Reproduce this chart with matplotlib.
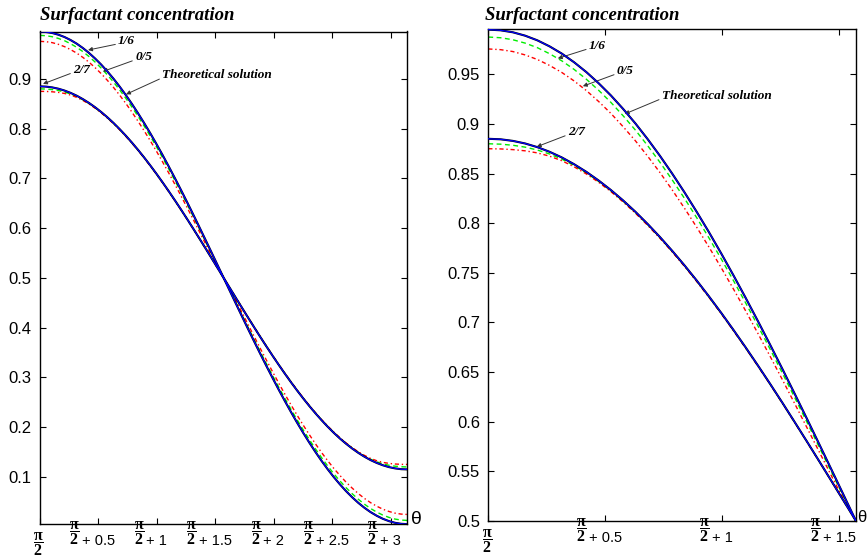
import matplotlib
matplotlib.use("Agg")
import matplotlib.pyplot as plt
import numpy as np
from matplotlib.ticker import FormatStrFormatter

plt.rcParams['mathtext.fontset'] = 'custom'
plt.rcParams['mathtext.rm'] = 'Liberation Serif'
plt.rcParams['mathtext.bf'] = 'Liberation Serif:bold'
plt.rcParams['font.family'] = ['Liberation Sans', 'DejaVu Sans']

# theta offset from pi/2, in degrees, every 3 degrees over [0, 180]
theta_offset_deg = list(range(0, 181, 3))

# upper family (steeper profile)
theory_upper = [
    0.9950, 0.9943, 0.9923, 0.9889, 0.9842, 0.9781, 0.9708, 0.9621, 0.9522, 0.9410,
    0.9287, 0.9151, 0.9005, 0.8847, 0.8679, 0.8500, 0.8312, 0.8115, 0.7910, 0.7696,
    0.7475, 0.7247, 0.7013, 0.6774, 0.6530, 0.6281, 0.6029, 0.5774, 0.5517, 0.5259,
    0.5000,
    0.4741, 0.4483, 0.4226, 0.3971, 0.3719, 0.3470, 0.3226, 0.2987, 0.2753, 0.2525,
    0.2304, 0.2090, 0.1885, 0.1688, 0.1500, 0.1321, 0.1153, 0.0995, 0.0849, 0.0713,
    0.0590, 0.0478, 0.0379, 0.0292, 0.0219, 0.0158, 0.0111, 0.0077, 0.0057, 0.0050]
green_upper = [
    0.9875, 0.9868, 0.9848, 0.9814, 0.9768, 0.9707, 0.9635, 0.9549, 0.9450, 0.9339,
    0.9217, 0.9082, 0.8938, 0.8781, 0.8614, 0.8437, 0.8251, 0.8056, 0.7852, 0.7641,
    0.7422, 0.7196, 0.6965, 0.6729, 0.6488, 0.6243, 0.5995, 0.5744, 0.5493, 0.5242,
    0.5000,
    0.4758, 0.4507, 0.4256, 0.4005, 0.3757, 0.3512, 0.3271, 0.3035, 0.2804, 0.2578,
    0.2359, 0.2148, 0.1944, 0.1749, 0.1563, 0.1386, 0.1219, 0.1062, 0.0918, 0.0783,
    0.0661, 0.0550, 0.0451, 0.0365, 0.0293, 0.0232, 0.0186, 0.0152, 0.0132, 0.0125]
red_upper = [
    0.9755, 0.9748, 0.9729, 0.9695, 0.9649, 0.9589, 0.9518, 0.9433, 0.9336, 0.9226,
    0.9106, 0.8972, 0.8830, 0.8675, 0.8511, 0.8336, 0.8152, 0.7960, 0.7760, 0.7552,
    0.7337, 0.7116, 0.6889, 0.6657, 0.6422, 0.6182, 0.5940, 0.5697, 0.5454, 0.5214,
    0.5000,
    0.4786, 0.4546, 0.4303, 0.4060, 0.3818, 0.3578, 0.3343, 0.3111, 0.2884, 0.2663,
    0.2448, 0.2240, 0.2040, 0.1848, 0.1664, 0.1489, 0.1325, 0.1170, 0.1028, 0.0894,
    0.0774, 0.0664, 0.0567, 0.0482, 0.0411, 0.0351, 0.0305, 0.0271, 0.0252, 0.0245]

# lower family (flatter profile)
theory_lower = [
    0.8850, 0.8845, 0.8829, 0.8803, 0.8766, 0.8719, 0.8662, 0.8594, 0.8517, 0.8430,
    0.8334, 0.8229, 0.8115, 0.7992, 0.7861, 0.7722, 0.7576, 0.7423, 0.7263, 0.7097,
    0.6925, 0.6748, 0.6566, 0.6380, 0.6190, 0.5996, 0.5800, 0.5602, 0.5402, 0.5201,
    0.5000,
    0.4799, 0.4598, 0.4398, 0.4200, 0.4004, 0.3810, 0.3620, 0.3434, 0.3252, 0.3075,
    0.2903, 0.2737, 0.2577, 0.2424, 0.2278, 0.2139, 0.2008, 0.1885, 0.1771, 0.1666,
    0.1570, 0.1483, 0.1406, 0.1338, 0.1281, 0.1234, 0.1197, 0.1171, 0.1155, 0.1150]
green_lower = [
    0.8800, 0.8796, 0.8785, 0.8766, 0.8737, 0.8697, 0.8645, 0.8581, 0.8506, 0.8421,
    0.8326, 0.8222, 0.8108, 0.7986, 0.7855, 0.7717, 0.7571, 0.7418, 0.7259, 0.7093,
    0.6921, 0.6745, 0.6563, 0.6377, 0.6188, 0.5994, 0.5799, 0.5601, 0.5401, 0.5201,
    0.5000,
    0.4799, 0.4599, 0.4399, 0.4201, 0.4006, 0.3812, 0.3623, 0.3437, 0.3255, 0.3079,
    0.2907, 0.2741, 0.2582, 0.2429, 0.2283, 0.2145, 0.2014, 0.1892, 0.1778, 0.1674,
    0.1579, 0.1494, 0.1419, 0.1355, 0.1303, 0.1263, 0.1234, 0.1215, 0.1204, 0.1200]
red_lower = [
    0.8750, 0.8748, 0.8741, 0.8729, 0.8708, 0.8675, 0.8629, 0.8568, 0.8496, 0.8412,
    0.8318, 0.8214, 0.8101, 0.7979, 0.7849, 0.7711, 0.7566, 0.7413, 0.7254, 0.7089,
    0.6917, 0.6741, 0.6560, 0.6375, 0.6186, 0.5992, 0.5797, 0.5600, 0.5401, 0.5200,
    0.5000,
    0.4800, 0.4599, 0.4400, 0.4203, 0.4008, 0.3814, 0.3625, 0.3440, 0.3259, 0.3083,
    0.2911, 0.2746, 0.2587, 0.2434, 0.2289, 0.2151, 0.2021, 0.1899, 0.1786, 0.1682,
    0.1588, 0.1504, 0.1432, 0.1371, 0.1325, 0.1292, 0.1271, 0.1259, 0.1252, 0.1250]

left_xticks = [0, 0.5, 1, 1.5, 2, 2.5, 3]
left_xlabels = ['', '+ 0.5', '+ 1', '+ 1.5', '+ 2', '+ 2.5', '+ 3']
right_xticks = [0, 0.5, 1, 1.5]
right_xlabels = ['', '+ 0.5', '+ 1', '+ 1.5']
left_yticks = [0.1, 0.2, 0.3, 0.4, 0.5, 0.6, 0.7, 0.8, 0.9]
right_yticks = [0.5, 0.55, 0.6, 0.65, 0.7, 0.75, 0.8, 0.85, 0.9, 0.95]

title_text = 'Surfactant concentration'

t = np.deg2rad(theta_offset_deg)

W, H = 867, 558
fig = plt.figure(figsize=(W / 100, H / 100), dpi=100)


def px_axes(x0, y0, x1, y1):
    return fig.add_axes([x0 / W, 1 - y1 / H, (x1 - x0) / W, (y1 - y0) / H])


ax1 = px_axes(40, 31.5, 407.3, 524.3)
ax2 = px_axes(488.3, 29.3, 856, 521)

serif_bi = dict(family='Liberation Serif', weight='bold', style='italic')
frac_label = r'$\dfrac{\mathbf{\pi}}{\mathbf{2}}$'


def draw(ax, xmax, ylim, yticks, xticks, xlabels, theta_dx, theta_size):
    for theory, green, red in ((theory_upper, green_upper, red_upper),
                               (theory_lower, green_lower, red_lower)):
        ax.plot(t, theory, color='black', lw=1.5, zorder=3)
        ax.plot(t, theory, color='blue', lw=0.9, zorder=4)
        ax.plot(t, green, color='#00ee00', lw=1.0, ls=(0, (3.5, 2.5)), zorder=2)
        ax.plot(t, red, color='red', lw=1.0, ls=(0, (3, 2, 1, 2)), zorder=2)
    ax.set_xlim(0, xmax)
    ax.set_ylim(*ylim)
    ax.set_yticks(yticks)
    ax.yaxis.set_major_formatter(FormatStrFormatter('%g'))
    ax.set_xticks(xticks)
    ax.set_xticklabels([''] * len(xticks))
    ax.tick_params(direction='in', length=4, width=0.8, top=True, right=True,
                   labelsize=12, pad=6)
    for s in ax.spines.values():
        s.set_linewidth(1.0)
    for xt, lab in zip(xticks, xlabels):
        if lab == '':
            ax.annotate(frac_label, xy=(xt, 0),
                        xycoords=('data', 'axes fraction'), xytext=(-1, -4),
                        textcoords='offset points', ha='center', va='top',
                        fontsize=11.5, annotation_clip=False)
        else:
            a = ax.annotate(lab, xy=(xt, 0), xycoords=('data', 'axes fraction'),
                            xytext=(0, -15), textcoords='offset points',
                            ha='center', va='baseline', fontsize=10.5,
                            annotation_clip=False)
            ax.annotate(frac_label, xy=(0, 0), xycoords=a,
                        xytext=(-1.5, 0.5), textcoords='offset points',
                        ha='right', va='bottom', fontsize=11.5,
                        annotation_clip=False)
    ax.annotate('θ', xy=(1, 0), xycoords='axes fraction',
                xytext=(theta_dx, -3), textcoords='offset points', ha='left',
                va='bottom', fontsize=theta_size, annotation_clip=False)


draw(ax1, np.pi, (0.0047, 0.9953), left_yticks, left_xticks, left_xlabels,
     3, 14)
draw(ax2, np.pi / 2, (0.5, 0.9953), right_yticks, right_xticks, right_xlabels,
     0.8, 12)

fig.text(40 / W, 1 - 20 / H, title_text, fontsize=13.5, va='baseline',
         ha='left', **serif_bi)
fig.text(485 / W, 1 - 20 / H, title_text, fontsize=13.5, va='baseline',
         ha='left', **serif_bi)

arrow = dict(arrowstyle='-|>', color='#333333', lw=0.7, mutation_scale=6,
             shrinkA=0, shrinkB=0, relpos=(0, 0.3))


def label(ax, text, tip, txt):
    ax.annotate(text, xy=tip, xytext=txt, ha='left', va='center',
                fontsize=9.5, arrowprops=arrow, **serif_bi)


label(ax1, '1/6', (0.411, 0.958), (0.668, 0.9753))
label(ax1, '0/5', (0.539, 0.915), (0.813, 0.9431))
label(ax1, '2/7', (0.026, 0.890), (0.283, 0.9177))
label(ax1, 'Theoretical solution', (0.736, 0.869), (1.045, 0.907))

label(ax2, '1/6', (0.297, 0.9660), (0.4295, 0.9783))
label(ax2, '0/5', (0.404, 0.938), (0.549, 0.953))
label(ax2, 'Theoretical solution', (0.583, 0.910), (0.741, 0.928))
label(ax2, '2/7', (0.207, 0.877), (0.340, 0.8915))

fig.savefig('out.png', dpi=100)
